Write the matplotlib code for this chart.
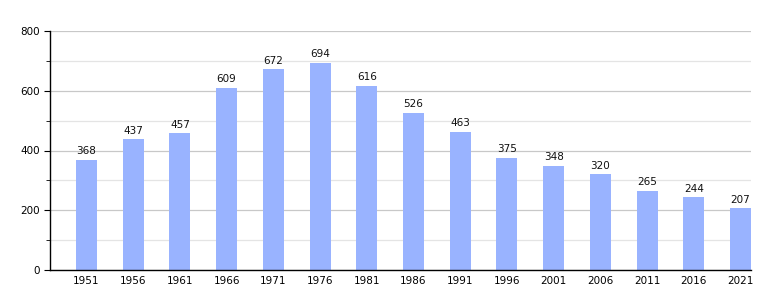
import numpy as np
import matplotlib.pyplot as plt
from matplotlib.ticker import MultipleLocator

years = ['1951', '1956', '1961', '1966', '1971', '1976', '1981', '1986',
         '1991', '1996', '2001', '2006', '2011', '2016', '2021']
pop = [368, 437, 457, 609, 672, 694, 616, 526, 463, 375, 348, 320, 265, 244, 207]

fig = plt.figure(figsize=(7.8, 3.0), dpi=100)
ax = fig.add_axes([50/780, 30/300, 701/780, 239/300])

x = np.arange(len(years))
ax.bar(x, pop, width=0.45, color='#99b3ff', zorder=2)
for xi, v in zip(x, pop):
    ax.text(xi, v + 12, str(v), ha='center', va='bottom', fontsize=7.5, color='#111111')

ax.set_xlim(-0.78, len(years) - 1 + 0.225)
ax.set_ylim(0, 800)
ax.yaxis.set_major_locator(MultipleLocator(200))
ax.yaxis.set_minor_locator(MultipleLocator(100))
ax.grid(axis='y', which='major', color='#c8c8c8', lw=0.9, zorder=0)
ax.grid(axis='y', which='minor', color='#e4e4e4', lw=0.9, zorder=0)
ax.set_xticks(x)
ax.set_xticklabels(years)
ax.tick_params(axis='x', length=0, labelsize=7.5, pad=4)
ax.tick_params(axis='y', which='major', length=4, labelsize=7.5, direction='out')
ax.tick_params(axis='y', which='minor', length=3, direction='out')
for s in ['top', 'right']:
    ax.spines[s].set_visible(False)
ax.spines['left'].set_linewidth(1.0)
ax.spines['bottom'].set_linewidth(1.0)

fig.savefig('out.png', dpi=100)
